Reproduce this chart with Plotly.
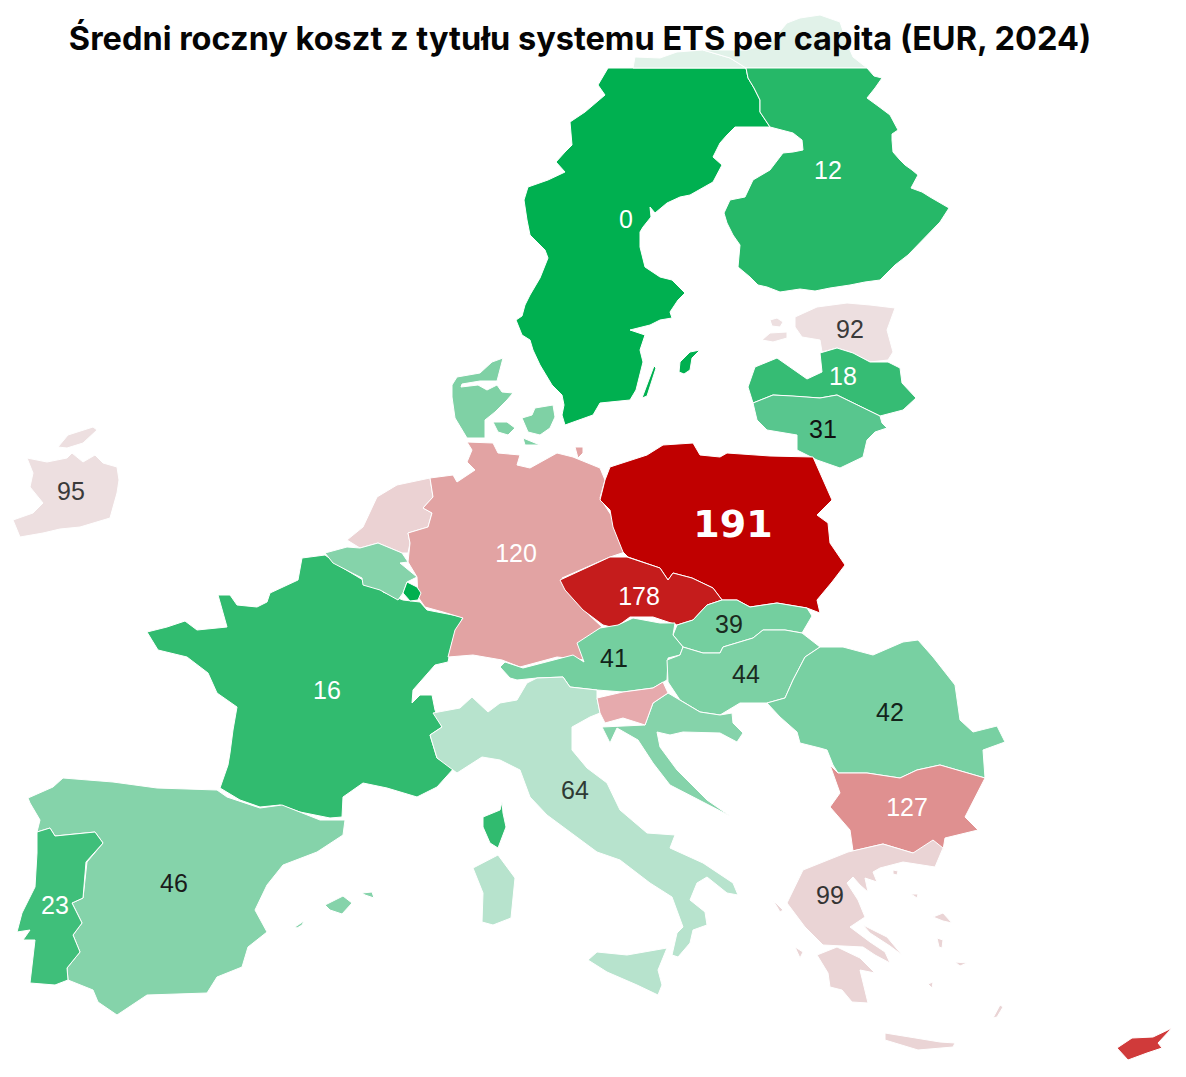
import plotly.graph_objects as go

TITLE = "Średni roczny koszt z tytułu systemu ETS per capita (EUR, 2024)"

SWEDEN = [[(608,68),(746,68),(748,78),(754,88),(760,100),(760,112),(770,127),(752,127),(735,127),(727,135),(720,143),(713,157),(722,165),(713,182),(690,195),(680,197),(667,203),(655,213),(650,207),(651,217),(643,227),(640,232),(640,247),(645,267),(660,277),(672,280),(685,293),(678,300),(670,312),(672,318),(660,320),(650,325),(630,330),(645,335),(640,350),(643,362),(640,375),(636,390),(630,400),(614,402),(600,403),(593,415),(578,420),(565,425),(562,415),(564,405),(562,395),(552,385),(540,365),(533,350),(530,340),(522,335),(516,320),(522,316),(525,305),(530,295),(540,278),(548,258),(545,250),(530,235),(527,220),(524,200),(528,187),(548,180),(565,172),(556,162),(565,152),(572,145),(570,122),(585,112),(605,95),(598,85)],
          [(700,350),(690,352),(680,362),(679,372),(684,374),(690,370),(692,358)],
          [(654,366),(642,398),(647,396),(656,368)]]
SWEDEN_TOP = [[(633,68),(635,57),(660,58),(677,52),(703,50),(730,58),(746,68)]]
FINLAND_TOP = [[(703,50),(747,50),(770,43),(787,23),(800,18),(820,15),(840,22),(847,43),(853,57),(867,68),(746,68),(730,58)]]
FINLAND = [[(746,68),(867,68),(874,76),(882,78),(875,88),(867,98),(878,106),(890,115),(898,130),(892,134),(892,140),(893,152),(900,160),(905,165),(912,170),(918,175),(911,188),(922,192),(930,197),(949,208),(940,222),(930,232),(920,242),(908,255),(895,265),(880,280),(865,282),(850,285),(830,288),(815,291),(800,289),(780,292),(767,287),(758,285),(750,277),(738,267),(740,245),(733,235),(727,223),(724,213),(730,200),(745,197),(753,180),(770,170),(783,153),(793,152),(803,150),(802,140),(793,133),(770,127),(760,112),(760,100),(754,88),(748,78)]]
ESTONIA = [[(795,317),(817,307),(847,303),(870,305),(895,308),(887,330),(893,352),(888,360),(870,362),(853,353),(837,348),(822,352),(820,340),(802,337),(795,327)],
           [(762,340),(770,333),(787,332),(787,338),(773,342)],
           [(770,320),(777,318),(783,322),(780,327),(772,326)]]
LATVIA = [[(748,387),(755,367),(777,358),(790,367),(807,379),(822,372),(820,353),(837,348),(853,353),(870,362),(888,362),(900,368),(902,383),(916,398),(903,410),(880,416),(853,403),(837,395),(820,398),(793,396),(773,395),(753,403)]]
LITHUANIA = [[(753,403),(773,395),(793,396),(820,398),(837,395),(853,403),(880,416),(882,423),(887,428),(875,432),(867,440),(863,457),(840,468),(817,460),(797,450),(797,435),(767,430),(757,420)]]
POLAND = [[(610,467),(647,455),(663,445),(693,443),(700,455),(720,457),(727,453),(770,456),(813,457),(822,478),(832,500),(817,515),(828,523),(830,543),(845,565),(832,582),(817,600),(820,613),(807,608),(777,603),(750,607),(737,600),(722,600),(713,588),(692,578),(673,573),(668,580),(660,568),(628,557),(623,552),(613,527),(610,510),(600,500),(605,480)]]
GERMANY = [[(467,442),(493,443),(498,453),(520,455),(517,465),(530,468),(557,453),(573,457),(600,468),(605,480),(600,498),(613,518),(617,533),(625,552),(610,557),(587,567),(562,578),(568,593),(587,613),(602,627),(580,642),(585,660),(557,657),(520,667),(502,660),(473,655),(448,657),(455,630),(463,618),(443,612),(425,607),(418,597),(417,577),(408,562),(410,543),(408,533),(428,527),(432,513),(423,508),(433,497),(430,478),(453,475),(457,482),(475,470),(467,462),(472,450)],
           [(575,447),(583,447),(583,453),(578,458)]]
NETHERLANDS = [[(377,497),(397,485),(430,478),(433,497),(423,508),(432,513),(428,527),(408,533),(410,543),(408,553),(402,553),(378,543),(360,548),(347,540),(363,527)]]
BELGIUM = [[(325,553),(347,547),(360,548),(378,543),(402,553),(408,562),(400,563),(417,577),(407,582),(403,593),(398,600),(380,590),(363,585),(362,578),(352,573),(333,563)]]
LUXEMBOURG = [[(407,582),(417,587),(421,593),(418,600),(410,601),(403,593)]]
FRANCE = [[(302,558),(325,555),(343,568),(363,580),(380,583),(383,592),(403,600),(420,602),(427,610),(463,617),(452,643),(448,662),(435,665),(413,690),(412,703),(420,695),(432,695),(435,710),(442,727),(430,735),(437,758),(455,767),(437,787),(417,797),(387,788),(363,783),(343,797),(342,817),(330,818),(300,812),(280,805),(260,807),(240,800),(220,788),(228,765),(230,753),(233,730),(237,707),(217,693),(208,673),(187,657),(158,650),(147,632),(167,627),(185,621),(197,630),(227,627),(218,595),(230,595),(237,605),(257,607),(267,602),(270,593),(298,580)],
          [(502,802),(503,813),(506,827),(498,848),(490,843),(483,827),(483,817),(500,810)]]
SPAIN = [[(28,798),(53,787),(63,778),(113,782),(157,788),(217,790),(227,797),(260,808),(282,805),(320,820),(345,820),(343,835),(317,852),(283,865),(267,885),(255,910),(267,932),(248,947),(242,967),(217,977),(207,993),(147,995),(117,1015),(98,1002),(93,990),(68,980),(67,968),(80,952),(73,935),(82,923),(72,903),(83,898),(87,862),(103,843),(95,832),(55,836),(50,828),(37,832),(40,820),(30,803)],
         [(325,905),(343,896),(352,903),(342,914),(330,910)],
         [(362,893),(372,892),(374,898),(365,895)],
         [(295,927),(304,921),(302,925),(297,928)]]
PORTUGAL = [[(37,832),(50,828),(55,836),(95,832),(103,843),(86,862),(83,898),(72,903),(82,923),(73,935),(80,952),(67,968),(68,980),(55,985),(30,983),(35,940),(23,940),(30,930),(17,932),(22,913),(35,887),(37,853)]]
IRELAND = [[(27,458),(47,462),(67,458),(72,453),(83,462),(95,455),(103,463),(117,467),(119,480),(117,493),(110,518),(80,527),(60,529),(43,533),(20,537),(13,520),(33,513),(43,503),(30,487),(33,473)],
           [(58,447),(68,435),(93,427),(97,430),(83,443),(67,448)]]
AUSTRIA = [[(500,667),(505,662),(523,668),(547,662),(573,655),(584,662),(577,643),(600,628),(618,625),(633,618),(660,623),(675,623),(673,635),(683,647),(680,655),(668,658),(667,680),(653,688),(623,692),(597,690),(570,687),(563,677),(537,678),(517,680),(510,678)]]
CZECHIA = [[(560,580),(610,557),(627,557),(660,568),(668,580),(673,573),(692,578),(713,588),(722,600),(707,605),(693,620),(677,625),(653,617),(630,617),(615,628),(603,625),(583,610),(565,590)]]
SLOVAKIA = [[(677,625),(693,620),(707,605),(722,600),(737,600),(750,607),(777,603),(807,608),(812,616),(802,633),(785,630),(763,630),(753,638),(723,647),(720,653),(703,653),(683,647),(673,635)]]
HUNGARY = [[(683,647),(703,653),(720,653),(723,647),(753,638),(763,630),(785,630),(802,633),(820,647),(805,657),(793,680),(785,698),(767,703),(740,703),(720,715),(700,712),(680,700),(668,682),(667,660),(680,655)]]
ROMANIA = [[(820,647),(843,647),(873,655),(903,642),(918,640),(933,657),(955,685),(960,720),(973,732),(997,726),(1005,742),(983,750),(985,778),(940,765),(917,770),(900,778),(867,773),(838,773),(833,765),(827,750),(820,748),(800,743),(797,732),(780,717),(767,703),(785,698),(793,680),(805,657)]]
CROATIA = [[(668,693),(680,700),(700,712),(720,715),(732,713),(733,723),(743,733),(737,742),(720,733),(683,732),(670,735),(657,732),(660,747),(677,770),(707,800),(730,816),(703,802),(670,785),(653,763),(638,740),(617,728),(610,743),(602,727),(645,725),(653,703)]]
SLOVENIA = [[(597,698),(623,692),(653,688),(663,682),(668,693),(653,703),(645,725),(623,718),(605,723),(600,713)]]
ITALY = [[(433,713),(460,708),(472,697),(488,712),(500,703),(517,700),(527,683),(537,678),(563,677),(570,687),(597,690),(597,698),(600,713),(590,717),(572,727),(572,750),(587,768),(607,783),(620,810),(647,833),(675,835),(670,848),(703,863),(733,883),(738,895),(727,893),(707,877),(697,883),(690,900),(705,912),(707,925),(693,930),(690,943),(678,957),(672,955),(677,933),(683,927),(672,897),(650,883),(620,860),(597,852),(567,830),(547,815),(530,797),(520,770),(500,760),(482,757),(457,773),(437,758),(430,735),(442,727)],
         [(473,868),(498,855),(515,878),(511,918),(493,925),(482,922),(483,893)],
         [(588,960),(597,952),(627,955),(667,948),(658,970),(662,985),(658,995),(637,985),(607,972)]]
BULGARIA = [[(830,765),(838,773),(867,773),(900,778),(917,770),(940,765),(985,778),(965,817),(978,830),(945,838),(943,850),(913,853),(883,844),(853,851),(850,830),(830,807),(840,793)]]
GREECE = [[(848,852),(883,844),(913,853),(933,840),(943,848),(935,867),(903,862),(880,868),(873,872),(877,882),(865,878),(868,892),(860,885),(853,877),(847,883),(858,900),(865,917),(850,927),(870,942),(885,952),(890,963),(875,955),(863,947),(823,945),(805,927),(787,903),(803,870),(827,860)],
          [(817,955),(837,947),(860,958),(875,973),(860,970),(868,1003),(852,1002),(842,990),(830,987),(828,973)],
          [(863,925),(887,937),(902,955),(890,946),(870,933)],
          [(885,1033),(910,1037),(940,1042),(955,1043),(953,1047),(918,1050),(885,1040)],
          [(993,1018),(1000,1005),(1003,1007),(997,1017)],
          [(933,917),(943,913),(952,923),(943,921)],
          [(937,938),(943,940),(942,948),(939,947)],
          [(795,947),(803,952),(800,958)],
          [(773,900),(783,910),(780,912)],
          [(893,870),(898,871),(897,875),(893,874)],
          [(911,894),(918,894),(917,898)],
          [(955,962),(967,963),(960,966)],
          [(928,984),(933,982),(932,988)]]
CYPRUS = [[(1117,1048),(1132,1038),(1153,1037),(1172,1028),(1158,1043),(1162,1048),(1147,1053),(1128,1060)]]
DENMARK = [[(452,385),(457,377),(480,373),(492,362),(503,358),(500,370),(497,381),(480,381),(462,384),(461,387),(478,385),(487,390),(497,385),(502,392),(513,393),(507,400),(495,412),(485,420),(485,438),(467,438),(455,418),(452,397)],
           [(493,422),(507,422),(515,428),(508,435),(498,432)],
           [(522,418),(532,415),(535,408),(553,405),(555,417),(550,428),(540,435),(528,432)],
           [(523,438),(540,445),(525,445)]]

COUNTRIES = [
    ("Sweden", SWEDEN, "#00B050"), ("Sweden (north)", SWEDEN_TOP, "#E1F2E9"),
    ("Finland (north)", FINLAND_TOP, "#E1F2E9"), ("Finland", FINLAND, "#26B868"),
    ("Estonia", ESTONIA, "#EDDFE0"), ("Latvia", LATVIA, "#36BC74"),
    ("Lithuania", LITHUANIA, "#58C68E"), ("Denmark", DENMARK, "#7FD1A5"),
    ("Ireland", IRELAND, "#EDDFE0"), ("Netherlands", NETHERLANDS, "#EBD2D3"),
    ("France", FRANCE, "#31BB6F"), ("Germany", GERMANY, "#E2A3A3"),
    ("Belgium", BELGIUM, "#85D3AA"), ("Luxembourg", LUXEMBOURG, "#00B050"),
    ("Poland", POLAND, "#C00000"),
    ("Czechia", CZECHIA, "#C51C1C"), ("Slovakia", SLOVAKIA, "#74CF9F"),
    ("Austria", AUSTRIA, "#74CF9F"), ("Hungary", HUNGARY, "#7CD1A4"),
    ("Romania", ROMANIA, "#78D0A2"), ("Bulgaria", BULGARIA, "#DF9090"),
    ("Greece", GREECE, "#EAD4D5"), ("Cyprus", CYPRUS, "#D03A3A"),
    ("Croatia", CROATIA, "#85D3AA"), ("Italy", ITALY, "#B7E3CD"),
    ("Slovenia", SLOVENIA, "#E6AAAD"),
    ("Spain", SPAIN, "#85D3AA"), ("Portugal", PORTUGAL, "#3FBF7A"),
]

LABELS_WHITE = ["0", "12", "18", "120", "178", "16", "127", "23"]
LABELS_WHITE_X = [626, 828, 843, 516, 639, 327, 907, 55]
LABELS_WHITE_Y = [222, 173, 379, 556, 599, 693, 810, 908]
LABELS_DARK = ["92", "31", "95", "39", "41", "44", "42", "64", "46", "99"]
LABELS_DARK_X = [850, 823, 71, 729, 614, 746, 890, 575, 174, 830]
LABELS_DARK_Y = [332, 432, 494, 627, 661, 677, 715, 793, 886, 898]
DARK_COLORS = ["#3A3A3A", "#111111", "#3A3A3A", "#1A2A20", "#12241A", "#1A2A20", "#12241A", "#2F3A34", "#1A1A1A", "#333333"]
LABEL_MAX = ["191"]
LABEL_MAX_X = [733]
LABEL_MAX_Y = [527]

fig = go.Figure()
for name, parts, colour in COUNTRIES:
    xs, ys = [], []
    for part in parts:
        xs += [p[0] for p in part] + [part[0][0], None]
        ys += [p[1] for p in part] + [part[0][1], None]
    fig.add_trace(go.Scatter(x=xs, y=ys, mode="lines", fill="toself", fillcolor=colour,
                             line=dict(color="white", width=1), name=name, hoverinfo="name",
                             showlegend=False))

fig.add_trace(go.Scatter(x=LABELS_WHITE_X, y=LABELS_WHITE_Y, text=LABELS_WHITE, mode="text",
                         textfont=dict(family="Liberation Sans", size=25, color="white"),
                         showlegend=False, hoverinfo="skip"))
fig.add_trace(go.Scatter(x=LABELS_DARK_X, y=LABELS_DARK_Y, text=LABELS_DARK, mode="text",
                         textfont=dict(family="Liberation Sans", size=25, color=DARK_COLORS),
                         showlegend=False, hoverinfo="skip"))
fig.add_trace(go.Scatter(x=LABEL_MAX_X, y=LABEL_MAX_Y, text=LABEL_MAX, mode="text",
                         textfont=dict(family="DejaVu Sans", size=38, color="white", weight=900),
                         showlegend=False, hoverinfo="skip"))

fig.update_layout(
    width=1186, height=1077, margin=dict(l=0, r=0, t=0, b=0),
    paper_bgcolor="white", plot_bgcolor="white",
    xaxis=dict(range=[0, 1186], visible=False, fixedrange=True),
    yaxis=dict(range=[1077, 0], visible=False, fixedrange=True),
    title=dict(text="<b>" + TITLE + "</b>", x=580/1186, xanchor="center", y=1-39/1077, yanchor="middle",
               font=dict(family="Inter", size=32.5, color="#050505")),
)
fig.write_html("out.html", config=dict(displayModeBar=False), post_script="document.body.style.margin='0';")
